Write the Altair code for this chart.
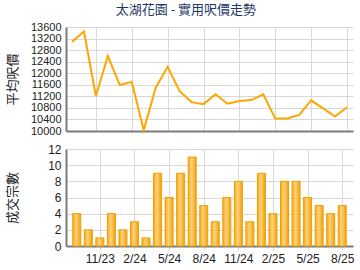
import altair as alt
import pandas as pd

months = ["9/23", "10/23", "11/23", "12/23", "1/24", "2/24", "3/24", "4/24",
          "5/24", "6/24", "7/24", "8/24", "9/24", "10/24", "11/24", "12/24",
          "1/25", "2/25", "3/25", "4/25", "5/25", "6/25", "7/25", "8/25"]
avg_price = [13080, 13450, 11210, 12600, 11590, 11700, 10030, 11500,
             12220, 11380, 11000, 10930, 11270, 10945, 11040, 11070,
             11270, 10430, 10430, 10555, 11060, 10785, 10500, 10820]
deals = [4, 2, 1, 4, 2, 3, 1, 9, 6, 9, 11, 5, 3, 6, 8, 3, 9, 4, 8, 8, 6, 5, 4, 5]
tick_idx = [2, 5, 8, 11, 14, 17, 20, 23]

df = pd.DataFrame({"i": list(range(len(months))), "m": months,
                   "price": avg_price, "deals": deals})

FONT = "Liberation Sans, Noto Sans CJK TC"
label_expr = "[" + ",".join("'%s'" % m for m in months) + "][datum.value]"
W = 287

common_axis = dict(
    labelFont=FONT, titleFont="Noto Sans CJK TC",
    labelColor="#222", titleColor="#222", titleFontSize=13,
    titleFontWeight="normal", gridColor="#d8d8d8", domainColor="#7a7a7a",
    domainWidth=2, labelOverlap=False,
)

x_top = alt.X("i:Q", scale=alt.Scale(domain=[-0.5, 23.5], nice=False, zero=False),
              axis=alt.Axis(values=tick_idx, labels=False, title=None,
                            tickColor="#d8d8d8", tickSize=0, **common_axis))
x_bot = alt.X("i:Q", scale=alt.Scale(domain=[-0.5, 23.5], nice=False, zero=False),
              axis=alt.Axis(values=tick_idx, labelExpr=label_expr, title=None,
                            tickColor="#d8d8d8", tickSize=4, labelPadding=3,
                            labelAngle=0, labelFontSize=12, **common_axis))

top = alt.Chart(df).mark_line(color="#FFA500", strokeWidth=2).encode(
    x=x_top,
    y=alt.Y("price:Q", scale=alt.Scale(domain=[10000, 13600], nice=False, zero=False),
            axis=alt.Axis(values=list(range(10000, 13601, 400)), title="平均呎價",
                          format="d", tickSize=0, labelPadding=5, labelFontSize=11,
                          titleAngle=-90, titleX=-54, titleY=52, titleAlign="center",
                          titleBaseline="middle", **common_axis)),
).properties(width=W, height=104)

grad = alt.Gradient(
    gradient="linear", x1=0, x2=1, y1=0, y2=0,
    stops=[alt.GradientStop(color="#F2A516", offset=0),
           alt.GradientStop(color="#FFD27A", offset=0.4),
           alt.GradientStop(color="#F7BB45", offset=0.7),
           alt.GradientStop(color="#EE9E10", offset=1)],
)

bot = alt.Chart(df).mark_bar(size=8, fill=grad, stroke="#F0A000", strokeWidth=1).encode(
    x=x_bot,
    y=alt.Y("deals:Q", scale=alt.Scale(domain=[0, 12], nice=False),
            axis=alt.Axis(values=list(range(0, 13, 2)), title="成交宗數",
                          tickSize=0, labelPadding=5, labelFontSize=12,
                          titleAngle=-90, titleX=-54, titleY=48.5, titleAlign="center",
                          titleBaseline="middle", **common_axis)),
).properties(width=W, height=97)

chart = alt.vconcat(top, bot, spacing=18, bounds="flush").properties(
    title=alt.TitleParams("太湖花園 - 實用呎價走勢", font="Noto Sans CJK TC",
                          fontSize=13, fontWeight="normal", color="#1F3A68",
                          anchor="middle", dx=6, offset=4),
    padding={"left": 5, "top": 4, "right": 5, "bottom": 5},
).configure_view(stroke=None)

chart.save("out.html", embed_options={"renderer": "svg", "actions": False})
